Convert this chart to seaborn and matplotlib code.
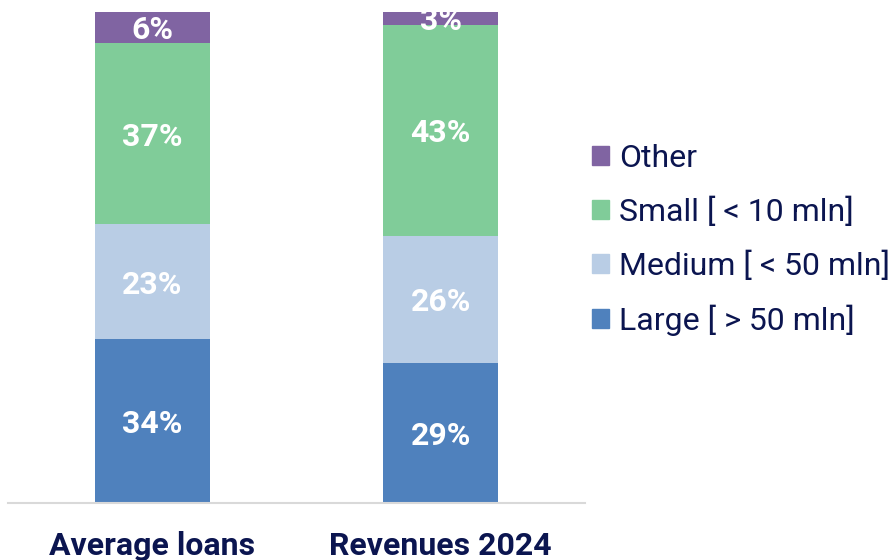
import numpy as np
import pandas as pd
import matplotlib.pyplot as plt
from matplotlib.patches import Patch
import seaborn as sns

categories = ["Average loans", "Revenues 2024"]
segments = ["Large [ > 50 mln]", "Medium [ < 50 mln]", "Small [ < 10 mln]", "Other"]
large = [33.4, 28.5]
medium = [23.4, 25.9]
small = [36.9, 43.0]
other = [6.3, 2.6]
labels_large = ["34%", "29%"]
labels_medium = ["23%", "26%"]
labels_small = ["37%", "43%"]
labels_other = ["6%", "3%"]

colors = ["#4f81bd", "#b9cde5", "#80cc99", "#8064a2"]
navy = "#0b1550"

sns.set_style("white")
plt.rcParams['font.family'] = ['Roboto', 'DejaVu Sans']

values = np.array([large, medium, small, other])
cum = values.cumsum(axis=0)
labels = [labels_large, labels_medium, labels_small, labels_other]

fig = plt.figure(figsize=(8.91, 5.6), dpi=100)
ax = fig.add_axes([8 / 891, 57 / 560, 577 / 891, 491 / 560])

# draw cumulative totals from the top down so the segments stack
for i in range(len(segments) - 1, -1, -1):
    df = pd.DataFrame({"cat": categories, "val": cum[i]})
    sns.barplot(data=df, x="cat", y="val", color=colors[i], width=0.4,
                saturation=1, ax=ax, linewidth=0)

for i in range(len(segments)):
    for j in range(len(categories)):
        y = cum[i][j] - values[i][j] / 2
        ax.text(j, y, labels[i][j], ha="center", va="center_baseline", color="white",
                fontsize=23, fontweight="bold")

ax.set_xlim(-0.5, 1.5)
ax.set_ylim(0, 100)
ax.set_xlabel("")
ax.set_ylabel("")
ax.set_yticks([])
for s in ["top", "right", "left"]:
    ax.spines[s].set_visible(False)
ax.spines["bottom"].set_color("#d9d9d9")
ax.spines["bottom"].set_linewidth(1.5)
ax.tick_params(axis="x", length=0, pad=20)
for t in ax.get_xticklabels():
    t.set_fontsize(23)
    t.set_fontweight("bold")
    t.set_color(navy)

handles = [Patch(color=colors[i], label=segments[i]) for i in range(len(segments) - 1, -1, -1)]
leg = fig.legend(handles=handles, loc="center left", bbox_to_anchor=(579 / 891, 1 - 240 / 560),
                 frameon=False, fontsize=23, handlelength=0.55, handleheight=0.55,
                 handletextpad=0.3, labelspacing=0.74, borderaxespad=0)
for t in leg.get_texts():
    t.set_color(navy)

fig.savefig("out.png", dpi=100)
